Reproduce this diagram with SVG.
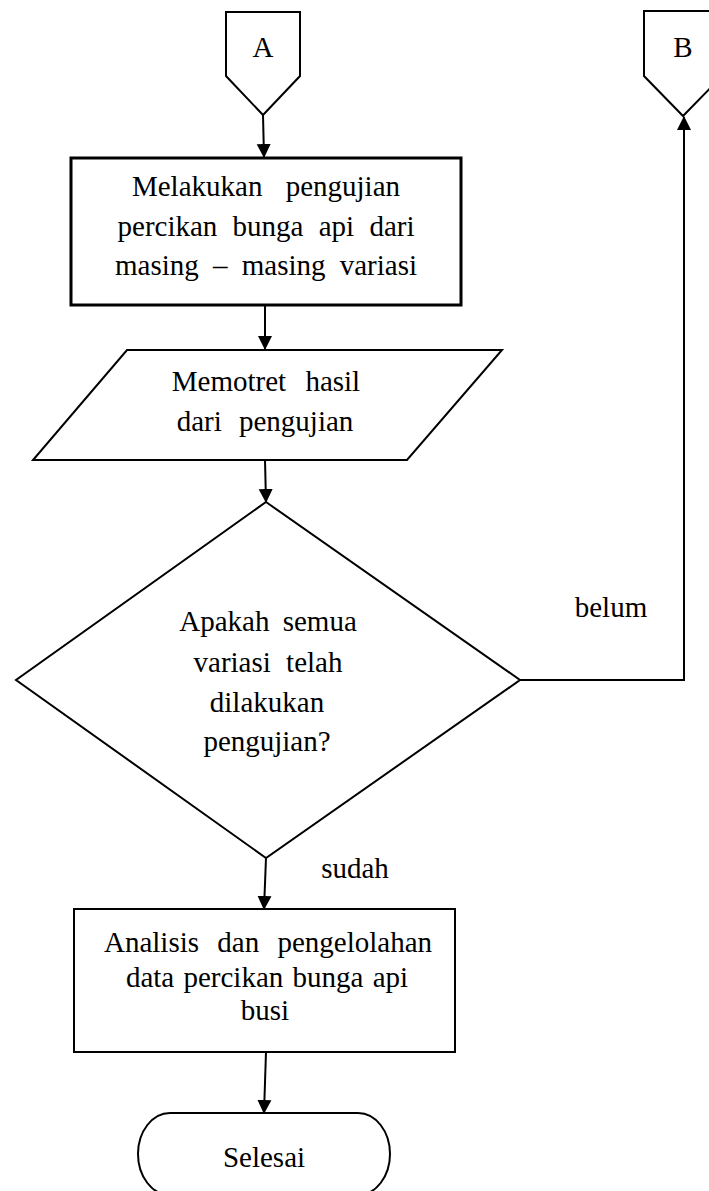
<svg xmlns="http://www.w3.org/2000/svg" width="709" height="1191" viewBox="0 0 709 1191">
<style>
.s{fill:#fff;stroke:#000;stroke-width:2}
.t{font-family:"Liberation Serif","Times New Roman",serif;font-size:29px;fill:#000;text-anchor:middle}
.c{fill:none;stroke:#000;stroke-width:2}
</style>
<defs>
<marker id="ah" markerUnits="userSpaceOnUse" markerWidth="14" markerHeight="16" refX="13" refY="7" orient="auto" viewBox="0 0 14 14">
<path d="M0,0 L14,7 L0,14 Z" fill="#000"/>
</marker>
</defs>
<rect width="709" height="1191" fill="#fff"/>
<g id="connectors">
<path class="c" d="M263,115 L264,157" marker-end="url(#ah)"/>
<path class="c" d="M265,305 L265,349" marker-end="url(#ah)"/>
<path class="c" d="M265,460 L266,502" marker-end="url(#ah)"/>
<path class="c" d="M520,680 L684,680 L684,117" marker-end="url(#ah)"/>
<path class="c" d="M266,858 L264,909" marker-end="url(#ah)"/>
<path class="c" d="M266,1052 L264,1113" marker-end="url(#ah)"/>
</g>
<g id="nodeA">
<path class="s" d="M226,12 H300 V76 L263,115 L226,76 Z"/>
<text class="t" x="263" y="57">A</text>
</g>
<g id="nodeB">
<path class="s" d="M644,11 H722 V76 L683,116 L644,76 Z"/>
<text class="t" x="683" y="57">B</text>
</g>
<g id="node1">
<rect class="s" x="71" y="158" width="390" height="147" style="stroke-width:3"/>
<text class="t" x="266" y="196" word-spacing="16">Melakukan pengujian</text>
<text class="t" x="266" y="236" word-spacing="8">percikan bunga api dari</text>
<text class="t" x="266" y="275" word-spacing="7">masing – masing variasi</text>
</g>
<g id="node2">
<path class="s" d="M127,350 H502 L407,460 H33 Z"/>
<text class="t" x="266" y="391" word-spacing="12">Memotret hasil</text>
<text class="t" x="265" y="431" word-spacing="10">dari pengujian</text>
</g>
<g id="node3">
<path class="s" d="M266,502 L520,680 L266,858 L16,680 Z"/>
<text class="t" x="268" y="631" word-spacing="6">Apakah semua</text>
<text class="t" x="268" y="672" word-spacing="8">variasi telah</text>
<text class="t" x="267" y="712">dilakukan</text>
<text class="t" x="267" y="751">pengujian?</text>
</g>
<g id="labels">
<text class="t" x="611" y="617">belum</text>
<text class="t" x="355" y="878">sudah</text>
</g>
<g id="node4">
<rect class="s" x="74" y="909" width="381" height="143"/>
<text class="t" x="268" y="952" word-spacing="11">Analisis dan pengelolahan</text>
<text class="t" x="267" y="987" word-spacing="2">data percikan bunga api</text>
<text class="t" x="265" y="1020">busi</text>
</g>
<g id="node5">
<path class="s" d="M170,1113 H358 A32,41 0 0 1 358,1195 H170 A32,41 0 0 1 170,1113 Z"/>
<text class="t" x="264" y="1167">Selesai</text>
</g>
</svg>
